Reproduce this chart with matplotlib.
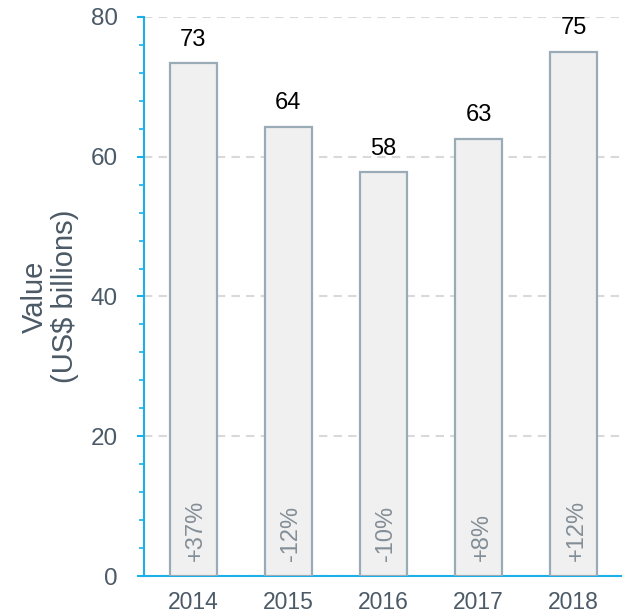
import matplotlib
matplotlib.use("Agg")
import matplotlib.pyplot as plt
from matplotlib.ticker import MultipleLocator

years = ["2014", "2015", "2016", "2017", "2018"]
values = [73.4, 64.3, 57.8, 62.6, 75.0]
value_labels = ["73", "64", "58", "63", "75"]
growth = ["+37%", "-12%", "-10%", "+8%", "+12%"]

plt.rcParams['font.family'] = ['Liberation Sans', 'DejaVu Sans']
axis_col = "#1ab0e8"
text_col = "#4b5a66"

fig = plt.figure(figsize=(6.23, 6.15), dpi=100)
ax = fig.add_axes([0.231, 0.0634, 0.766, 0.909])

x = list(range(len(years)))
ax.bar(x, values, width=0.5, color="#f0f0f0", edgecolor="#9aabb8", linewidth=1.6, zorder=3)

for i in x:
    ax.text(i, values[i] + 1.8, value_labels[i], ha="center", va="bottom", fontsize=17, color="black")
    ax.text(i + 0.03, 2.2, growth[i], ha="center", va="bottom", rotation=90, fontsize=17, color="#848e97", zorder=4)

ax.set_xlim(-0.52, 4.5)
ax.set_ylim(0, 80)
ax.set_xticks(x)
ax.set_xticklabels(years)
ax.yaxis.set_major_locator(MultipleLocator(20))
ax.yaxis.set_minor_locator(MultipleLocator(4))

ax.grid(axis="y", which="major", linestyle=(0, (4, 3)), color="#d9d9d9", linewidth=1.5, zorder=0)
ax.set_axisbelow(True)

for s in ["top", "right"]:
    ax.spines[s].set_visible(False)
for s in ["left", "bottom"]:
    ax.spines[s].set_color(axis_col)
    ax.spines[s].set_linewidth(1.5)

ax.tick_params(axis="y", which="major", length=5, width=1.5, color=axis_col, labelsize=17.5, labelcolor=text_col, pad=14)
ax.tick_params(axis="y", which="minor", length=3.6, width=1.2, color=axis_col)
ax.tick_params(axis="x", length=0, labelsize=16.5, labelcolor=text_col, pad=11)

ax.set_ylabel("Value\n(US$ billions)", fontsize=21, color=text_col, labelpad=8, linespacing=1.1)

fig.savefig("out.png", dpi=100)
